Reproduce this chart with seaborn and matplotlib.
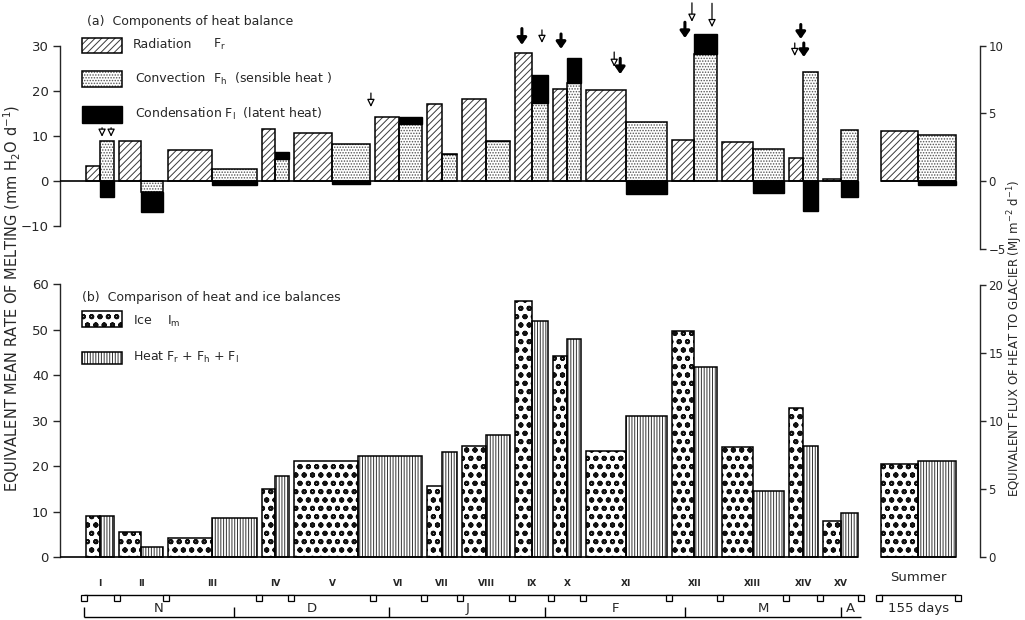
import numpy as np
import pandas as pd
import matplotlib
matplotlib.use("Agg")
import matplotlib.pyplot as plt
from matplotlib.patches import Rectangle
import seaborn as sns

sns.set_style("ticks")
plt.rcParams["font.family"] = ["DejaVu Sans"]
plt.rcParams["font.weight"] = "normal"
plt.rcParams["mathtext.default"] = "regular"
plt.rcParams["hatch.linewidth"] = 0.7

# ---------------- data ----------------
periods = ["I", "II", "III", "IV", "V", "VI", "VII", "VIII", "IX", "X",
           "XI", "XII", "XIII", "XIV", "XV"]
# period boundaries, days from 1 November
period_edges = [0, 6.6, 16.4, 35.0, 41.4, 57.7, 67.9, 75.0, 85.5, 93.2,
                99.6, 116.8, 126.8, 140.1, 146.9, 155.0]
# (a) components of heat balance, mm H2O d-1
radiation = [3.3, 8.9, 6.9, 11.5, 10.6, 14.1, 17.1, 18.1, 28.4, 20.5,
             20.2, 9.2, 8.7, 5.2, 0.4]
convection = [8.9, -2.4, 2.6, 4.9, 8.2, 12.6, 5.9, 8.8, 17.2, 21.7,
              13.1, 28.1, 7.2, 24.2, 11.2]
condensation = [-3.5, -4.5, -0.9, 1.6, -0.7, 1.5, 0.0, 0.0, 6.2, 5.6,
                -2.9, 4.4, -2.6, -6.6, -3.6]
summer_radiation = 11.1
summer_convection = 10.2
summer_condensation = -0.8
summer_edges = [158.5, 174.4]

# (b) comparison (periods V and VI combined)
b_edges = [0, 6.6, 16.4, 35.0, 41.4, 67.9, 75.0, 85.5, 93.2,
           99.6, 116.8, 126.8, 140.1, 146.9, 155.0]
ice = [9.2, 5.5, 4.2, 15.0, 21.3, 15.8, 24.4, 56.4, 44.2, 23.5, 49.8, 24.2, 32.8, 8.0]
heat = [9.2, 2.2, 8.6, 18.0, 22.3, 23.1, 26.9, 52.0, 48.1, 31.2, 41.8, 14.6, 24.4, 9.7]
summer_ice = 20.5
summer_heat = 21.3

# arrows in panel (a)
arrow_day = [3.7, 5.5, 57.3, 87.4, 91.4, 95.2, 105.8, 107.0, 119.9, 121.3, 125.3, 143.0, 141.8, 143.6]
arrow_tip = [9.8, 9.8, 16.4, 30.2, 30.6, 29.3, 25.3, 23.7, 31.7, 35.3, 34.1, 31.5, 27.7, 27.5]
arrow_len = [2.0, 2.0, 3.1, 3.6, 2.9, 3.3, 3.3, 3.5, 3.5, 4.2, 5.3, 3.2, 2.9, 3.1]
arrow_filled = [0, 0, 0, 1, 0, 1, 0, 1, 1, 0, 0, 1, 0, 1]

months = ["N", "D", "J", "F", "M", "A"]
month_edges = [0, 30, 61, 92, 120, 151, 155]
summer_days = 155

MM_TO_MJ = 0.334

# ---------------- layout ----------------
W, H = 1025, 620
fig = plt.figure(figsize=(W / 100, H / 100), dpi=100)
X0, XS = 83.5, 5.016  # pixel of day 0, pixels per day
xlim = ((60 - X0) / XS, (980 - X0) / XS)


def add_px_axes(top, bottom):
    return fig.add_axes([60 / W, 1 - bottom / H, 920 / W, (bottom - top) / H])


ax_a = add_px_axes(181 - 40 * 4.51, 181 + 16 * 4.51)
ax_a.set_ylim(-16, 40)
ax_b = add_px_axes(557.5 - 65 * 4.55, 557.5 + 13.5 * 4.55)
ax_b.set_ylim(-13.5, 65)

STY = {
    "rad": dict(hatch="/////", hc="#3a3a3a"),
    "conv": dict(hatch="......", hc="#555555"),
    "ice": dict(hatch="oo", hc="#111111"),
    "heat": dict(hatch="||||||", hc="#333333"),
}
ICE_HLW = 1.35


def hatched(ax, left, width, height, bottom, key, lw=1.1):
    s = STY[key]
    bars = ax.bar(left, height, width, bottom=bottom, align="edge", color="white",
                  edgecolor=s["hc"], hatch=s["hatch"], linewidth=0, zorder=2)
    if key == "ice":
        for p in bars:
            if hasattr(p, "set_hatch_linewidth"):
                p.set_hatch_linewidth(ICE_HLW)
    ax.bar(left, height, width, bottom=bottom, align="edge", fill=False,
           edgecolor="black", linewidth=lw, zorder=3)


def solid(ax, left, width, height, bottom):
    ax.bar(left, height, width, bottom=bottom, align="edge", color="black",
           edgecolor="black", linewidth=1.0, zorder=3)


MARG = 0.5

# ---------- panel (a) ----------
e = np.array(period_edges)
a0, a1 = e[:-1] + MARG, e[1:] - MARG
mid = (e[:-1] + e[1:]) / 2
rad = np.array(radiation)
conv = np.array(convection)
cond = np.array(condensation)
hatched(ax_a, a0, mid - a0, rad, 0, "rad")
hatched(ax_a, mid, a1 - mid, conv, 0, "conv")
cb = np.where(cond >= 0, conv, np.minimum(conv, 0))
solid(ax_a, mid, a1 - mid, cond, cb)

s0, s1 = summer_edges[0] + MARG, summer_edges[1] - MARG
smid = sum(summer_edges) / 2
hatched(ax_a, [s0], [smid - s0], [summer_radiation], 0, "rad")
hatched(ax_a, [smid], [s1 - smid], [summer_convection], 0, "conv")
solid(ax_a, [smid], [s1 - smid], [summer_condensation], [0])

ax_a.hlines(0, xlim[0], e[-1] - MARG, color="black", lw=1.2, zorder=4)
ax_a.hlines(0, s0, s1, color="black", lw=1.2, zorder=4)

for d, tip, ln, f in zip(arrow_day, arrow_tip, arrow_len, arrow_filled):
    if f:
        props = dict(arrowstyle="-|>,head_length=0.4,head_width=0.28", lw=2.2,
                     color="black", shrinkA=0, shrinkB=0)
    else:
        props = dict(arrowstyle="-|>,head_length=0.45,head_width=0.22", lw=0.9,
                     fc="white", ec="black", shrinkA=0, shrinkB=0)
    ax_a.annotate("", xy=(d, tip), xytext=(d, tip + ln), arrowprops=props, zorder=5)

# ---------- panel (b) ----------
be = np.array(b_edges)
b0, b1 = be[:-1] + MARG, be[1:] - MARG
bmid = (be[:-1] + be[1:]) / 2
hatched(ax_b, b0, bmid - b0, ice, 0, "ice")
hatched(ax_b, bmid, b1 - bmid, heat, 0, "heat")
hatched(ax_b, [s0], [smid - s0], [summer_ice], 0, "ice")
hatched(ax_b, [smid], [s1 - smid], [summer_heat], 0, "heat")
ax_b.hlines(0, xlim[0], be[-1] - MARG, color="black", lw=1.2, zorder=4)
ax_b.hlines(0, s0, s1, color="black", lw=1.2, zorder=4)

# period axis
py = -8.25
ax_b.hlines(py, e[0], e[-1], color="black", lw=1.0, clip_on=False)
ax_b.plot(e, [py - 0.55] * len(e), ls="none", marker="s", ms=4.2, mfc="white",
          mec="black", mew=0.9, clip_on=False, zorder=5)
for lab, m in zip(periods, mid):
    ax_b.text(m, -5.8, lab, ha="center", va="center", fontsize=6.5, fontweight="bold")
ax_b.hlines(py, summer_edges[0], summer_edges[1], color="black", lw=1.0, clip_on=False)
ax_b.plot(summer_edges, [py - 0.55] * 2, ls="none", marker="s", ms=4.2, mfc="white",
          mec="black", mew=0.9, clip_on=False, zorder=5)
ax_b.text(smid, -4.4, "Summer", ha="center", va="center", fontsize=9.5)
ax_b.text(smid, -11.2, f"{summer_days} days", ha="center", va="center", fontsize=9.5)

# month axis
my = -13.1
me = np.array(month_edges)
ax_b.hlines(my, me[0], me[-1], color="black", lw=1.0, clip_on=False)
ax_b.vlines(me[:-1], my, -10.9, color="black", lw=1.0, clip_on=False)
for lab, a, b in zip(months, me[:-1], me[1:]):
    ax_b.text((a + b) / 2, -11.2, lab, ha="center", va="center", fontsize=9.5)

# ---------- axes styling ----------
for ax in (ax_a, ax_b):
    ax.set_xlim(*xlim)
    ax.set_xticks([])
    ax.patch.set_alpha(0)
    for sp in ("top", "right", "bottom"):
        ax.spines[sp].set_visible(False)
    ax.spines["left"].set_linewidth(1.0)
    ax.tick_params(axis="y", length=5, width=1.0, labelsize=9.5, pad=3)

ax_a.set_yticks([-10, 0, 10, 20, 30])
ax_a.spines["left"].set_bounds(-10, 30)
ax_b.set_yticks([0, 10, 20, 30, 40, 50, 60])
ax_b.spines["left"].set_bounds(0, 60)

fwd = lambda v: v * MM_TO_MJ
inv = lambda v: v / MM_TO_MJ
sa = ax_a.secondary_yaxis("right", functions=(fwd, inv))
sa.set_yticks([-5, 0, 5, 10])
sa.spines["right"].set_bounds(-5, 10)
sb = ax_b.secondary_yaxis("right", functions=(fwd, inv))
sb.set_yticks([0, 5, 10, 15, 20])
sb.spines["right"].set_bounds(0, 20)
for s in (sa, sb):
    s.tick_params(axis="y", length=4, width=1.0, labelsize=8.5, pad=2)
    s.spines["right"].set_linewidth(1.0)

# ---------- overlay: legends and axis titles ----------
ov = fig.add_axes([0, 0, 1, 1])
ov.set_xlim(0, W)
ov.set_ylim(H, 0)
ov.axis("off")


def legend_box(x, y, w, h, key):
    if key == "cond":
        ov.add_patch(Rectangle((x, y), w, h, facecolor="black", edgecolor="black", lw=1))
        return
    s = STY[key]
    p = Rectangle((x, y), w, h, facecolor="white", edgecolor=s["hc"], hatch=s["hatch"], lw=0)
    if key == "ice" and hasattr(p, "set_hatch_linewidth"):
        p.set_hatch_linewidth(ICE_HLW)
    ov.add_patch(p)
    ov.add_patch(Rectangle((x, y), w, h, fill=False, edgecolor="black", lw=1.1))


fs = 9
ov.text(87, 21, "(a)  Components of heat balance", ha="left", va="center", fontsize=fs)
legend_box(82, 38, 40, 15, "rad")
ov.text(133, 44, "Radiation", ha="left", va="center", fontsize=fs)
ov.text(213, 44, "F$_r$", ha="left", va="center", fontsize=fs)
legend_box(82, 71, 40, 16, "conv")
ov.text(135, 79, "Convection", ha="left", va="center", fontsize=fs)
ov.text(213, 79, "F$_h$  (sensible heat )", ha="left", va="center", fontsize=fs)
legend_box(82, 106, 40, 17, "cond")
ov.text(135, 114, "Condensation F$_l$  (latent heat)", ha="left", va="center", fontsize=fs)

ov.text(82, 298, "(b)  Comparison of heat and ice balances", ha="left", va="center", fontsize=fs)
legend_box(82, 311, 40, 16, "ice")
ov.text(133, 321, "Ice    I$_m$", ha="left", va="center", fontsize=fs)
legend_box(82, 352, 40, 12, "heat")
ov.text(133, 357, "Heat F$_r$ + F$_h$ + F$_l$", ha="left", va="center", fontsize=fs)

ov.text(12, 298, "EQUIVALENT MEAN RATE OF MELTING (mm H$_2$O d$^{-1}$)", rotation=90,
        ha="center", va="center", fontsize=10.5)
ov.text(1015, 338, "EQUIVALENT FLUX OF HEAT TO GLACIER (MJ m$^{-2}$ d$^{-1}$)", rotation=90,
        ha="center", va="center", fontsize=8.5)

fig.savefig("out.png", dpi=100)
